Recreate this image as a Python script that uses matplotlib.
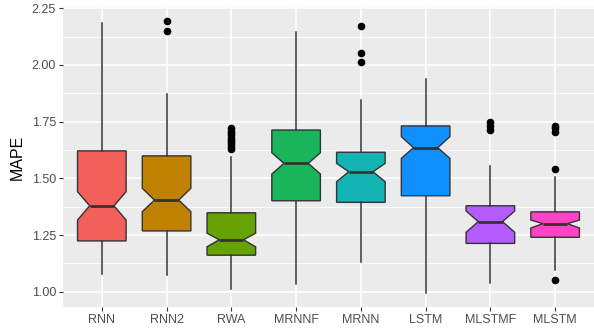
import matplotlib
matplotlib.use("Agg")
import matplotlib.pyplot as plt

plt.rcParams["font.family"] = ["Liberation Sans", "DejaVu Sans"]

# box statistics
models = ["RNN", "RNN2", "RWA", "MRNNF", "MRNN", "LSTM", "MLSTMF", "MLSTM"]
medians = [1.379, 1.404, 1.229, 1.566, 1.529, 1.635, 1.309, 1.300]
q1s = [1.224, 1.268, 1.161, 1.401, 1.394, 1.423, 1.213, 1.240]
q3s = [1.621, 1.599, 1.348, 1.713, 1.615, 1.731, 1.379, 1.352]
whisk_lo = [1.078, 1.072, 1.013, 1.033, 1.131, 0.993, 1.037, 1.096]
whisk_hi = [2.187, 1.871, 1.596, 2.147, 1.846, 1.937, 1.554, 1.507]
notch_lo = [1.316, 1.353, 1.198, 1.519, 1.485, 1.588, 1.262, 1.281]
notch_hi = [1.441, 1.456, 1.258, 1.613, 1.566, 1.684, 1.356, 1.316]
outliers = [
    [],
    [2.150, 2.195],
    [1.63, 1.64, 1.65, 1.66, 1.67, 1.68, 1.69, 1.70, 1.71, 1.72],
    [],
    [2.013, 2.052, 2.173],
    [],
    [1.713, 1.731, 1.747],
    [1.052, 1.541, 1.706, 1.720, 1.731],
]
fill_colors = ["#F2605C", "#C08000", "#66A300", "#19B55A",
               "#14B4B4", "#1090FF", "#B45CFF", "#FF44C8"]

stats = []
for i in range(len(models)):
    stats.append({
        "label": models[i],
        "med": medians[i],
        "q1": q1s[i],
        "q3": q3s[i],
        "whislo": whisk_lo[i],
        "whishi": whisk_hi[i],
        "cilo": notch_lo[i],
        "cihi": notch_hi[i],
        "fliers": outliers[i],
    })

fig = plt.figure(figsize=(5.94, 3.28), dpi=100)
ax = fig.add_axes([0.106, 0.064, 0.894, 0.915])
ax.set_facecolor("#EBEBEB")

# grid first so boxes sit on top
for y in [1.125, 1.375, 1.625, 1.875, 2.125]:
    ax.axhline(y, color="white", lw=0.6, zorder=0)
for y in [1.0, 1.25, 1.5, 1.75, 2.0, 2.25]:
    ax.axhline(y, color="white", lw=1.2, zorder=0)
for x in range(1, len(models) + 1):
    ax.axvline(x, color="white", lw=1.2, zorder=0)

bp = ax.bxp(stats, positions=range(1, len(models) + 1), widths=0.75,
            shownotches=True, patch_artist=True, showcaps=False,
            boxprops=dict(edgecolor="#333333", linewidth=1.0),
            whiskerprops=dict(color="#333333", linewidth=1.1),
            medianprops=dict(color="#333333", linewidth=2.0),
            flierprops=dict(marker="o", markerfacecolor="black",
                            markeredgecolor="black", markersize=4.5))
for patch, c in zip(bp["boxes"], fill_colors):
    patch.set_facecolor(c)
    patch.set_zorder(2)

ax.set_xlim(0.4, 8.6)
ax.set_ylim(0.9325, 2.256)
ax.set_yticks([1.0, 1.25, 1.5, 1.75, 2.0, 2.25])
ax.set_yticklabels(["1.00", "1.25", "1.50", "1.75", "2.00", "2.25"])
ax.set_xticks(range(1, len(models) + 1))
ax.set_xticklabels(models)
ax.tick_params(axis="both", colors="#333333", labelcolor="#4D4D4D",
               labelsize=9, length=3, width=0.8, pad=2)
for s in ax.spines.values():
    s.set_visible(False)
ax.set_ylabel("MAPE", fontsize=11.5, color="black", labelpad=5)

fig.savefig("out.png", dpi=100, facecolor="white")
